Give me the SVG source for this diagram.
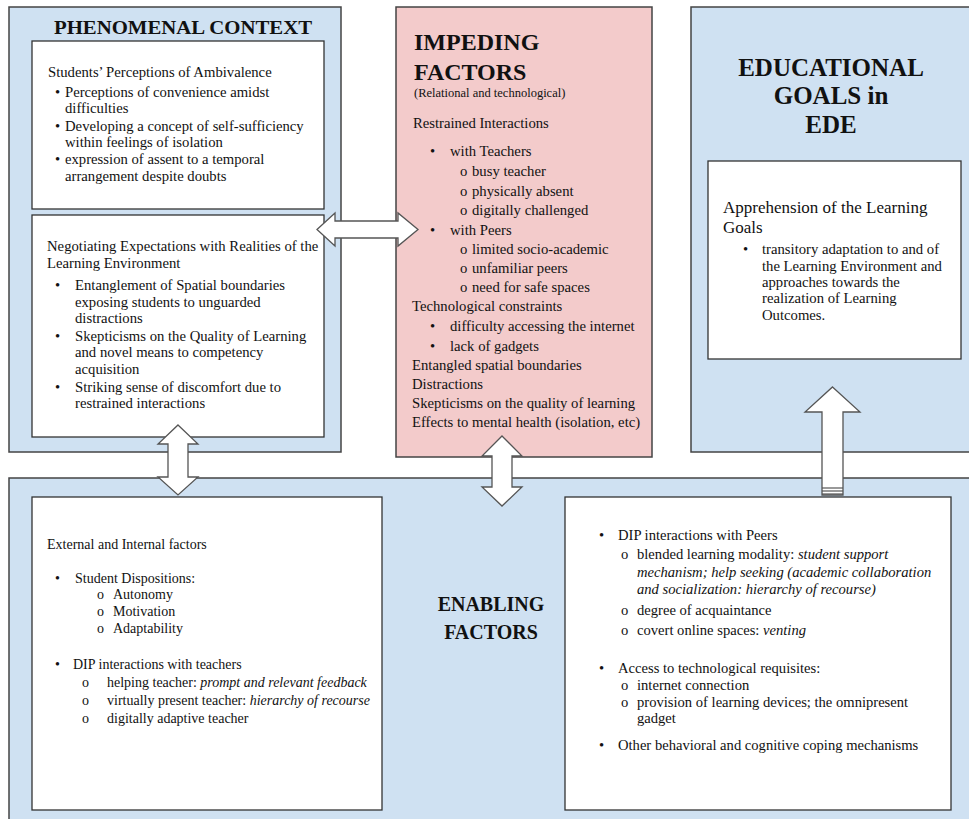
<svg xmlns="http://www.w3.org/2000/svg" width="969" height="819" viewBox="0 0 969 819">
  <style>
    .blue { fill: #cfe1f2; stroke: #444; stroke-width: 1.5; }
    .pink { fill: #f3cbcb; stroke: #444; stroke-width: 1.5; }
    .inner { fill: #ffffff; stroke: #333; stroke-width: 1.3; }
    text { font-family: "Liberation Serif", "Times New Roman", serif; fill: #111; }
    .t { font-size: 14.7px; }
    .s { font-size: 14px; }
    .r { font-size: 14.6px; }
    .m { font-size: 17px; }
    .sm { font-size: 12.5px; }
    .h { font-weight: bold; }
    .i { font-style: italic; }
    .arrow { fill: #ffffff; stroke: #555; stroke-width: 1.3; stroke-linejoin: miter; }
    .stripe { stroke: #555; stroke-width: 1.2; }
  </style>

  <!-- Phenomenal context -->
  <g id="phenomenal-context">
    <rect class="blue" x="9" y="7" width="332" height="445"/>
    <text class="h" x="183" y="34" font-size="19" text-anchor="middle" textLength="258" lengthAdjust="spacingAndGlyphs">PHENOMENAL CONTEXT</text>
  </g>

  <g id="perceptions-of-ambivalence">
    <rect class="inner" x="32" y="41" width="292" height="168"/>
    <text class="t" x="48" y="77">Students’ Perceptions of Ambivalence</text>
    <text class="t" x="55" y="97">•</text>
    <text class="t" x="65" y="97">Perceptions of convenience amidst</text>
    <text class="t" x="65" y="113">difficulties</text>
    <text class="t" x="55" y="131">•</text>
    <text class="t" x="65" y="131">Developing a concept of self-sufficiency</text>
    <text class="t" x="65" y="147">within  feelings of isolation</text>
    <text class="t" x="55" y="164">•</text>
    <text class="t" x="65" y="164">expression of assent to a temporal</text>
    <text class="t" x="65" y="181">arrangement despite doubts</text>
  </g>

  <g id="negotiating-expectations">
    <rect class="inner" x="32" y="215" width="292" height="222"/>
    <text class="t" x="47" y="251">Negotiating Expectations with Realities of the</text>
    <text class="t" x="47" y="268">Learning Environment</text>
    <text class="t" x="55" y="290">•</text>
    <text class="t" x="75" y="290">Entanglement of Spatial boundaries</text>
    <text class="t" x="75" y="307">exposing students to unguarded</text>
    <text class="t" x="75" y="323">distractions</text>
    <text class="t" x="55" y="341">•</text>
    <text class="t" x="75" y="341">Skepticisms on the Quality of Learning</text>
    <text class="t" x="75" y="357">and novel means to competency</text>
    <text class="t" x="75" y="374">acquisition</text>
    <text class="t" x="55" y="392">•</text>
    <text class="t" x="75" y="392">Striking sense of discomfort due to</text>
    <text class="t" x="75" y="408">restrained interactions</text>
  </g>

  <!-- Impeding factors -->
  <g id="impeding-factors">
    <rect class="pink" x="396" y="7" width="256" height="450"/>
    <text class="h" x="414" y="50" font-size="24">IMPEDING</text>
    <text class="h" x="414" y="80" font-size="24">FACTORS</text>
    <text class="sm" x="414" y="97">(Relational and technological)</text>
    <text class="t" x="413" y="128">Restrained Interactions</text>
    <text class="t" x="430" y="156">•</text>
    <text class="t" x="450" y="156">with Teachers</text>
    <text class="t" x="460" y="176">o</text>
    <text class="t" x="472" y="176">busy teacher</text>
    <text class="t" x="460" y="196">o</text>
    <text class="t" x="472" y="196">physically absent</text>
    <text class="t" x="460" y="215">o</text>
    <text class="t" x="472" y="215">digitally challenged</text>
    <text class="t" x="430" y="235">•</text>
    <text class="t" x="450" y="235">with Peers</text>
    <text class="t" x="460" y="254">o</text>
    <text class="t" x="472" y="254">limited socio-academic</text>
    <text class="t" x="460" y="273">o</text>
    <text class="t" x="472" y="273">unfamiliar peers</text>
    <text class="t" x="460" y="292">o</text>
    <text class="t" x="472" y="292">need for safe spaces</text>
    <text class="t" x="412" y="311">Technological constraints</text>
    <text class="t" x="430" y="331">•</text>
    <text class="t" x="450" y="331">difficulty accessing the internet</text>
    <text class="t" x="430" y="351">•</text>
    <text class="t" x="450" y="351">lack of gadgets</text>
    <text class="t" x="412" y="370">Entangled spatial boundaries</text>
    <text class="t" x="412" y="389">Distractions</text>
    <text class="t" x="412" y="408">Skepticisms on the quality of learning</text>
    <text class="t" x="412" y="427">Effects to mental health (isolation, etc)</text>
  </g>

  <!-- Educational goals -->
  <g id="educational-goals">
    <rect class="blue" x="691" y="7" width="280" height="445"/>
    <text class="h" x="831" y="76" font-size="25" text-anchor="middle">EDUCATIONAL</text>
    <text class="h" x="831" y="104" font-size="25" text-anchor="middle">GOALS in</text>
    <text class="h" x="831" y="133" font-size="25" text-anchor="middle">EDE</text>
  </g>

  <g id="learning-goals">
    <rect class="inner" x="708" y="161" width="253" height="198"/>
    <text class="m" x="723" y="213">Apprehension of the Learning</text>
    <text class="m" x="723" y="233">Goals</text>
    <text class="t" x="743" y="254">•</text>
    <text class="t" x="762" y="254">transitory adaptation to and of</text>
    <text class="t" x="762" y="271">the Learning Environment and</text>
    <text class="t" x="762" y="287">approaches towards the</text>
    <text class="t" x="762" y="303">realization of Learning</text>
    <text class="t" x="762" y="320">Outcomes.</text>
  </g>

  <!-- Enabling factors -->
  <g id="enabling-factors">
    <rect class="blue" x="9" y="478" width="962" height="350"/>
    <text class="h" x="491" y="611" font-size="20" text-anchor="middle">ENABLING</text>
    <text class="h" x="491" y="639" font-size="20" text-anchor="middle">FACTORS</text>
  </g>

  <g id="external-internal-factors">
    <rect class="inner" x="32" y="497" width="350" height="313"/>
    <text class="s" x="47" y="549">External and Internal factors</text>
    <text class="s" x="55" y="583">•</text>
    <text class="s" x="75" y="583">Student Dispositions:</text>
    <text class="s" x="97" y="599">o</text>
    <text class="s" x="113" y="599">Autonomy</text>
    <text class="s" x="97" y="616">o</text>
    <text class="s" x="113" y="616">Motivation</text>
    <text class="s" x="97" y="633">o</text>
    <text class="s" x="113" y="633">Adaptability</text>
    <text class="s" x="55" y="669">•</text>
    <text class="s" x="73" y="669">DIP interactions with teachers</text>
    <text class="s" x="82" y="687">o</text>
    <text class="s" x="107" y="687">helping teacher: <tspan class="i">prompt and relevant feedback</tspan></text>
    <text class="s" x="82" y="705">o</text>
    <text class="s" x="107" y="705">virtually present teacher: <tspan class="i">hierarchy of recourse</tspan></text>
    <text class="s" x="82" y="723">o</text>
    <text class="s" x="107" y="723">digitally  adaptive teacher</text>
  </g>

  <g id="peer-and-technology-factors">
    <rect class="inner" x="565" y="497" width="386" height="313"/>
    <text class="r" x="599" y="540">•</text>
    <text class="r" x="618" y="540">DIP interactions with Peers</text>
    <text class="r" x="621" y="559">o</text>
    <text class="r" x="637" y="559">blended learning modality: <tspan class="i">student support</tspan></text>
    <text class="r i" x="637" y="577">mechanism; help seeking (academic collaboration</text>
    <text class="r i" x="637" y="594">and socialization: hierarchy of recourse)</text>
    <text class="r" x="621" y="615">o</text>
    <text class="r" x="637" y="615">degree of acquaintance</text>
    <text class="r" x="621" y="635">o</text>
    <text class="r" x="637" y="635">covert online spaces: <tspan class="i">venting</tspan></text>
    <text class="r" x="599" y="673">•</text>
    <text class="r" x="618" y="673">Access to technological requisites:</text>
    <text class="r" x="621" y="690">o</text>
    <text class="r" x="637" y="690">internet connection</text>
    <text class="r" x="621" y="707">o</text>
    <text class="r" x="637" y="707">provision of learning devices; the omnipresent</text>
    <text class="r" x="637" y="723">gadget</text>
    <text class="r" x="599" y="750">•</text>
    <text class="r" x="618" y="750">Other behavioral and cognitive coping mechanisms</text>
  </g>

  <!-- Block arrows linking the boxes -->
  <g id="connectors">
    <path class="arrow" d="M317,229.5 L335,213 L335,221 L398,221 L398,213 L418,229.5 L398,246 L398,238 L335,238 L335,246 Z"/>
    <path class="arrow" d="M178,425 L198,444 L188,444 L188,477 L198,477 L178,495 L158,477 L168,477 L168,444 L158,444 Z"/>
    <path class="arrow" d="M502,436 L522,456 L512,456 L512,487 L522,487 L502,506 L482,487 L492,487 L492,456 L482,456 Z"/>
    <path class="arrow" d="M832.5,387 L860,412 L843,412 L843,495 L822,495 L822,412 L805,412 Z"/>
    <line class="stripe" x1="822" y1="488" x2="843" y2="488"/>
    <line class="stripe" x1="822" y1="491" x2="843" y2="491"/>
    <line class="stripe" x1="822" y1="494" x2="843" y2="494"/>
  </g>
</svg>
